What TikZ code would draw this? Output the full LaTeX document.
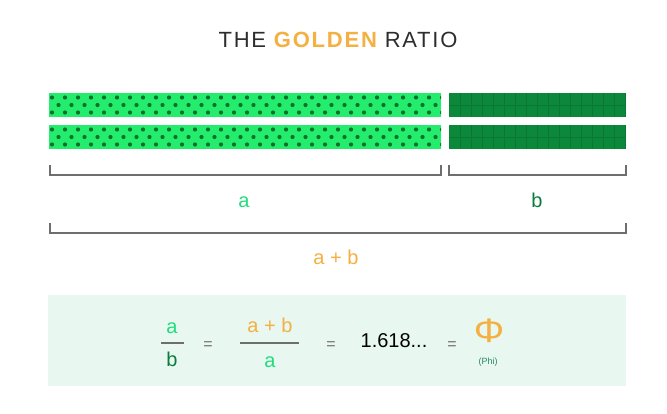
\documentclass[tikz,border=0pt]{standalone}
\usepackage{fontspec}
\setmainfont{Liberation Sans}
\definecolor{barlight}{RGB}{36,236,108}
\definecolor{dotc}{RGB}{12,112,44}
\definecolor{bardark}{RGB}{12,136,58}
\definecolor{gridc}{RGB}{10,120,50}
\definecolor{brkc}{RGB}{110,110,110}
\definecolor{lgreen}{RGB}{34,220,126}
\definecolor{dgreen}{RGB}{10,125,62}
\definecolor{gold}{RGB}{244,176,65}
\definecolor{boxc}{RGB}{232,247,240}
\definecolor{phic}{RGB}{40,135,100}
\definecolor{titlec}{RGB}{45,45,45}
\definecolor{fracc}{RGB}{110,110,110}
\begin{document}
\begin{tikzpicture}[x=1pt,y=-1pt,
  txt/.style={inner sep=0pt,anchor=base,font=\fontsize{20}{20}\selectfont},
  eqs/.style={inner sep=0pt,anchor=base,text=fracc,font=\fontsize{16}{16}\selectfont},
  brk/.style={draw=brkc,line width=1.5pt},
  fracline/.style={draw=fracc,line width=1.3pt},
  dotst/.style={fill=dotc}]
\useasboundingbox (0,0) rectangle (667,414);
\fill[white] (0,0) rectangle (667,414);
% title
\node[inner sep=0pt,anchor=base,text=titlec,font=\fontsize{22}{22}\selectfont\addfontfeature{LetterSpace=8}] (title) at (338,47.3)
  {THE \textcolor{gold}{\bfseries GOLDEN} RATIO};
% bars
\foreach \y in {93,125}{
  \fill[barlight] (49,\y) rectangle (441,\y+24);
  \begin{scope}
    \clip (49,\y) rectangle (441,\y+24);
    \foreach \k in {0,...,30}{
      \path[dotst] (52+13*\k,\y+4.5) circle[radius=2.1pt];
      \path[dotst] (58.5+13*\k,\y+12) circle[radius=2.1pt];
      \path[dotst] (52+13*\k,\y+19.5) circle[radius=2.1pt];
    }
  \end{scope}
  \fill[bardark] (449,\y) rectangle (626,\y+24);
  \begin{scope}
    \clip (449,\y) rectangle (626,\y+24);
    \foreach \k in {1,...,16}{
      \draw[gridc,line width=0.5pt] (449+11*\k,\y) -- (449+11*\k,\y+24);
    }
    \draw[gridc,line width=0.5pt] (449,\y+12) -- (626,\y+12);
  \end{scope}
}
% brackets
\draw[brk] (50,165) -- (50,175) -- (441,175) -- (441,165);
\draw[brk] (449,165) -- (449,175) -- (626,175) -- (626,165);
\draw[brk] (50,223) -- (50,233) -- (626,233) -- (626,223);
\node[txt,text=lgreen] (la) at (244,208) {a};
\node[txt,text=dgreen] (lb) at (537,208) {b};
\node[txt,text=gold] (lab) at (336,265) {a + b};
% formula box
\fill[boxc] (48,295) rectangle (626,386);
\node[txt,text=lgreen] (fa1) at (172,333) {a};
\node[txt,text=dgreen] (fb1) at (172,366) {b};
\coordinate (f1l) at (161,343);
\coordinate (f1r) at (184,343);
\draw[fracline] (f1l) -- (f1r);
\node[eqs] (eq1) at (208,349) {=};
\node[txt,text=gold] (fab) at (270,332) {a + b};
\node[txt,text=lgreen] (fa2) at (270,367) {a};
\coordinate (f2l) at (240,343);
\coordinate (f2r) at (299,343);
\draw[fracline] (f2l) -- (f2r);
\node[eqs] (eq2) at (331,349) {=};
\node[txt,text=black] (num) at (394,347) {1.618...};
\node[eqs] (eq3) at (452,349) {=};
\node[inner sep=0pt,anchor=base,text=gold,font=\fontsize{34}{34}\selectfont,xscale=1.12] (phi) at (489,342) {Φ};
\node[inner sep=0pt,anchor=base,text=phic,font=\fontsize{9}{9}\selectfont] (phil) at (488,364) {(Phi)};
\end{tikzpicture}
\end{document}
